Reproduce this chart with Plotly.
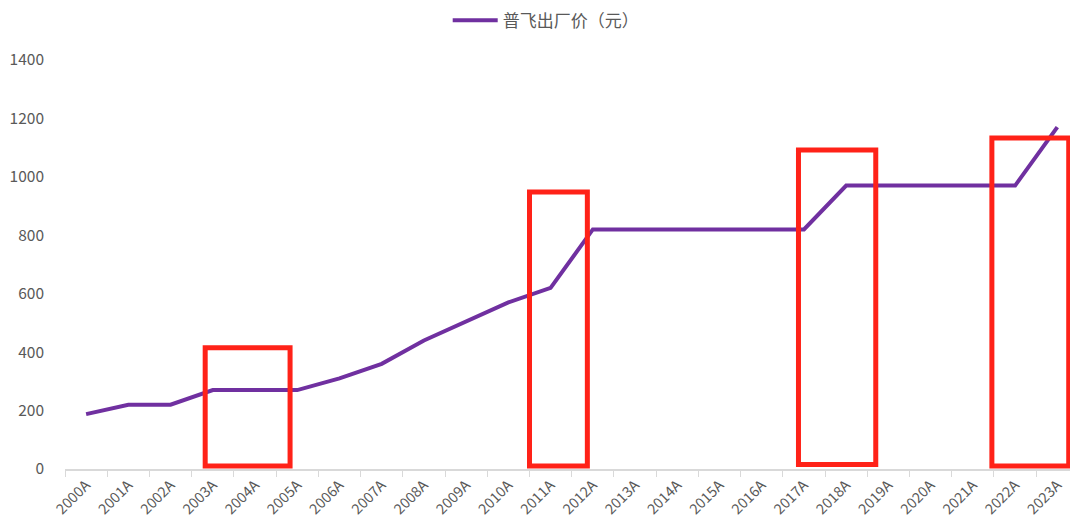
import plotly.graph_objects as go

years = [f"{y}A" for y in range(2000, 2024)]
prices = [188, 220, 220, 270, 270, 270, 310, 360, 440, 505, 570, 620,
          820, 820, 820, 820, 820, 820, 970, 970, 970, 970, 970, 1170]
series_name = "普飞出厂价（元）"

# highlight boxes: (x0, x1, y0, y1) in category-index / value units
box_x0 = [2.82, 10.5, 16.87, 21.45]
box_x1 = [4.83, 11.87, 18.7, 23.27]
box_y0 = [10, 10, 15, 10]
box_y1 = [415, 948, 1092, 1133]

font_family = "Noto Sans CJK SC, Open Sans, sans-serif"
grey = "#595959"

fig = go.Figure()
fig.add_trace(go.Scatter(
    x=years, y=prices, mode="lines", name=series_name,
    line=dict(color="#7030A0", width=4),
))

for a, b, c, d in zip(box_x0, box_x1, box_y0, box_y1):
    fig.add_shape(type="rect", xref="x", yref="y", x0=a, x1=b, y0=c, y1=d,
                  line=dict(color="#FF2218", width=5), fillcolor="rgba(0,0,0,0)")

fig.update_layout(
    width=1070, height=529,
    margin=dict(l=65, r=0, t=60, b=60),
    paper_bgcolor="white", plot_bgcolor="white",
    font=dict(family=font_family, color=grey, size=14),
    showlegend=True,
    legend=dict(orientation="h", x=0.51, xref="container", xanchor="center",
                y=0.995, yanchor="top", yref="container", itemwidth=45,
                font=dict(size=17, color=grey)),
    xaxis=dict(
        type="category", range=[-0.5, 23.3],
        showgrid=False, showline=True, linecolor="#D9D9D9", linewidth=2,
        ticks="outside", tickson="boundaries", ticklen=6, tickcolor="#D9D9D9",
        tickangle=-45, tickfont=dict(size=14.5, color=grey),
    ),
    yaxis=dict(
        range=[0, 1400], dtick=200, showgrid=False, zeroline=False,
        showline=False, tickfont=dict(size=15.5, color=grey),
        ticklabelstandoff=20,
    ),
)

fig.write_html("out.html")
